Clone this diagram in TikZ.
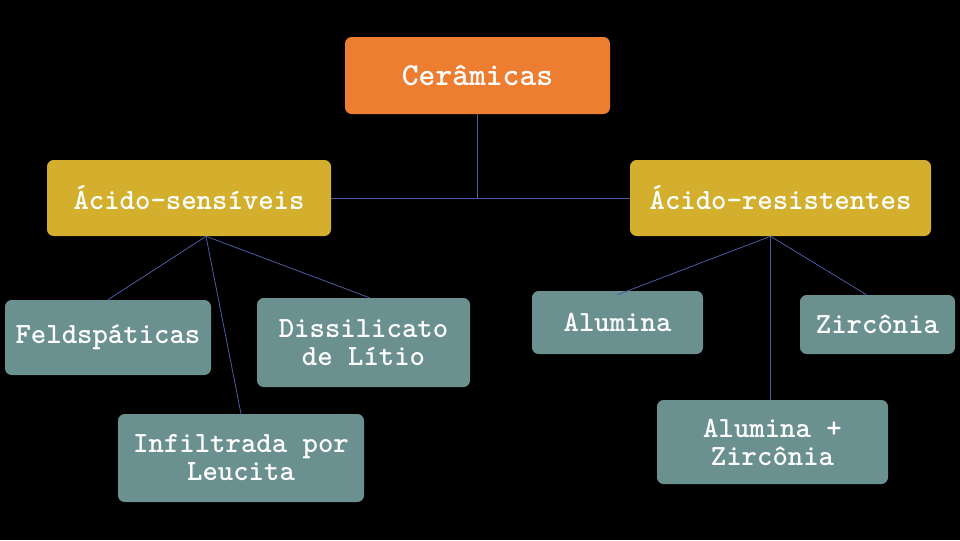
\documentclass[tikz,border=0pt]{standalone}
\usepackage{fontspec}
\usepackage{tikz}
\usetikzlibrary{positioning, calc}

\definecolor{topcolor}{HTML}{ED7D31}
\definecolor{groupcolor}{HTML}{D4AF2E}
\definecolor{leafcolor}{HTML}{6A908F}
\definecolor{linkcolor}{HTML}{4C5BA6}

\tikzset{
    box/.style={rounded corners=5pt, text=white, align=center, inner sep=0pt,
        font=\ttfamily\bfseries\fontsize{22}{21}\selectfont},
    topbox/.style={box, fill=topcolor, font=\ttfamily\bfseries\fontsize{24}{24}\selectfont},
    groupbox/.style={box, fill=groupcolor},
    leafbox/.style={box, fill=leafcolor},
    link/.style={draw=linkcolor, line width=0.6pt}
}

\begin{document}
\begin{tikzpicture}[x=0.75pt, y=-0.75pt]
            % background
            \fill[black] (0,0) rectangle (960,540);
            \useasboundingbox (0,0) rectangle (960,540);

            % top
            \node[topbox, minimum width=265*0.75pt, minimum height=77*0.75pt]
                (cer) at (477.5,75.5) {Cerâmicas};

            % groups
            \node[groupbox, minimum width=284*0.75pt, minimum height=76*0.75pt]
                (sens) at (189,198) {Ácido-sensíveis};
            \node[groupbox, minimum width=301*0.75pt, minimum height=76*0.75pt]
                (res) at (780.5,198) {Ácido-resistentes};

            % leaves
            \node[leafbox, minimum width=206*0.75pt, minimum height=75*0.75pt]
                (feld) at (108,337.5) {Feldspáticas};
            \node[leafbox, minimum width=213*0.75pt, minimum height=89*0.75pt]
                (diss) at (363.5,342.5) {Dissilicato\\de Lítio};
            \node[leafbox, minimum width=246*0.75pt, minimum height=88*0.75pt]
                (infl) at (241,458) {Infiltrada por\\Leucita};
            \node[leafbox, minimum width=171*0.75pt, minimum height=63*0.75pt]
                (alum) at (617.5,322.5) {Alumina};
            \node[leafbox, minimum width=155*0.75pt, minimum height=59*0.75pt]
                (zirc) at (877.5,324.5) {Zircônia};
            \node[leafbox, minimum width=231*0.75pt, minimum height=84*0.75pt]
                (alzr) at (772.5,442) {Alumina +\\Zircônia};

            % connectors
            \coordinate (sensb) at ($(sens.south)+(17,0)$);
            \coordinate (resb) at ($(res.south)+(-10,0)$);

            \draw[link] (sens.east) -- (res.west);
            \draw[link] (cer.south) -- (cer.south |- sens.east);

            \draw[link] (sensb) -- (feld.north);
            \draw[link] (sensb) -- ($(diss.north)+(6,0)$);
            \draw[link] (sensb) -- (infl.north);

            \draw[link] (resb) -- ($(alum.north)+(0,4)$);
            \draw[link] (resb) -- ($(zirc.north)+(-11,0)$);
            \draw[link] (resb) -- (resb |- alzr.north);
\end{tikzpicture}
\end{document}
